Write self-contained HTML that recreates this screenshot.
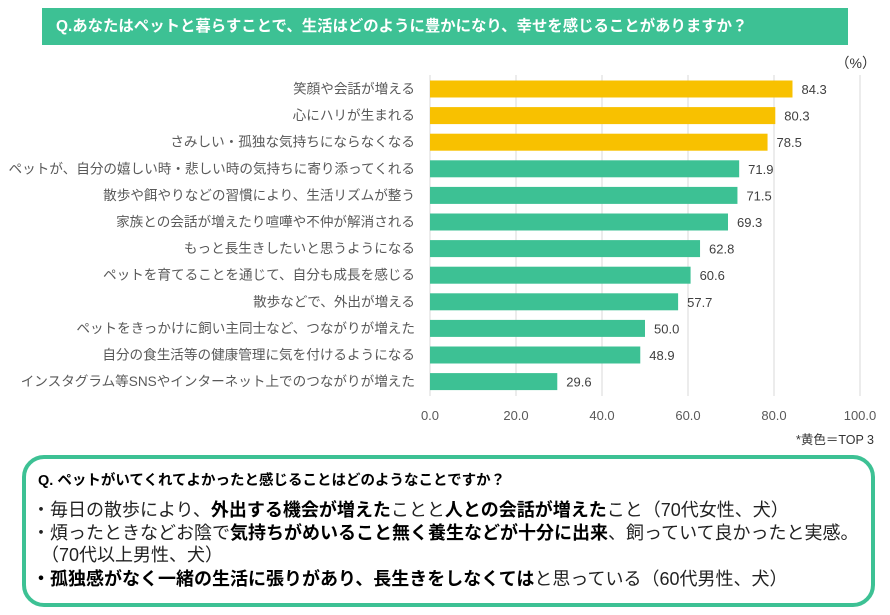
<!DOCTYPE html>
<html><head><meta charset="utf-8"><style>
body{margin:0;background:#fff;font-family:"Liberation Sans","Noto Sans CJK JP",sans-serif;}
#wrap{position:relative;width:890px;height:615px;overflow:hidden;}
#title{position:absolute;left:42px;top:8px;width:806px;height:37px;background:#3dc194;color:#fff;font-weight:bold;font-size:15.4px;line-height:37px;padding-left:14px;box-sizing:border-box;white-space:nowrap;}
#box{position:absolute;left:22px;top:455px;width:853px;height:152px;border:4px solid #3dc194;border-radius:22px;box-sizing:border-box;}
.bq{position:absolute;left:12px;top:10px;font-size:14.5px;font-weight:bold;color:#000;white-space:nowrap;}
.bl{position:absolute;left:6px;font-size:18px;color:#222;white-space:nowrap;}
.bl b{color:#000;}
</style></head><body>
<div id="wrap">
<div id="title">Q.あなたはペットと暮らすことで、生活はどのように豊かになり、幸せを感じることがありますか？</div>
<svg id="chart" width="890" height="450" style="position:absolute;left:0;top:0"></svg>
<div id="box">
<div class="bq">Q. ペットがいてくれてよかったと感じることはどのようなことですか？</div>
<div class="bl" style="top:37px">・毎日の散歩により、<b>外出する機会が増えた</b>ことと<b>人との会話が増えた</b>こと（70代女性、犬）</div>
<div class="bl" style="top:60px">・煩ったときなどお陰で<b>気持ちがめいること無く養生などが十分に出来</b>、飼っていて良かったと実感。</div>
<div class="bl" style="top:82px">　（70代以上男性、犬）</div>
<div class="bl" style="top:106px"><b>・孤独感がなく一緒の生活に張りがあり、長生きをしなくては</b>と思っている（60代男性、犬）</div>
</div>
</div>
<script>
const categories=["笑顔や会話が増える","心にハリが生まれる","さみしい・孤独な気持ちにならなくなる","ペットが、自分の嬉しい時・悲しい時の気持ちに寄り添ってくれる","散歩や餌やりなどの習慣により、生活リズムが整う","家族との会話が増えたり喧嘩や不仲が解消される","もっと長生きしたいと思うようになる","ペットを育てることを通じて、自分も成長を感じる","散歩などで、外出が増える","ペットをきっかけに飼い主同士など、つながりが増えた","自分の食生活等の健康管理に気を付けるようになる","インスタグラム等SNSやインターネット上でのつながりが増えた"];
const values=[84.3,80.3,78.5,71.9,71.5,69.3,62.8,60.6,57.7,50.0,48.9,29.6];
const topCount=3;
const ticks=[0,20,40,60,80,100];
const NS="http://www.w3.org/2000/svg";
const svg=document.getElementById('chart');
const x=v=>430+v*4.3;
const y=i=>89+i*26.6;
function mk(t,a,txt){const e=document.createElementNS(NS,t);for(const k in a)e.setAttribute(k,a[k]);if(txt!==undefined)e.textContent=txt;svg.appendChild(e);return e;}
ticks.forEach(t=>{
 const g=mk('line',{x1:x(t),x2:x(t),y1:75,y2:396,stroke:'#d9d9d9','stroke-width':1});
 
 
 const l=mk('text',{x:x(t),y:420,'text-anchor':'middle','font-size':13,fill:'#595959'},t.toFixed(1));
 
 
});
const u=mk('text',{x:876,y:68,'text-anchor':'end','font-size':14,fill:'#333'},'（%）');


categories.forEach((c,i)=>{
 const b=mk('rect',{x:x(0),y:y(i)-8.5,width:x(values[i])-x(0),height:17,fill:i<topCount?'#f8c100':'#3dc194'});
 
 
 const l=mk('text',{x:415,y:y(i)+4.5,'text-anchor':'end','font-size':13.6,fill:'#595959'},c);
 
 
 const v=mk('text',{x:x(values[i])+9,y:y(i)+5,'font-size':13,fill:'#404040'},values[i].toFixed(1));
 
 
});
const n=mk('text',{x:874,y:444,'text-anchor':'end','font-size':12.5,fill:'#333'},'*黄色＝TOP 3');


</script>
</body></html>
